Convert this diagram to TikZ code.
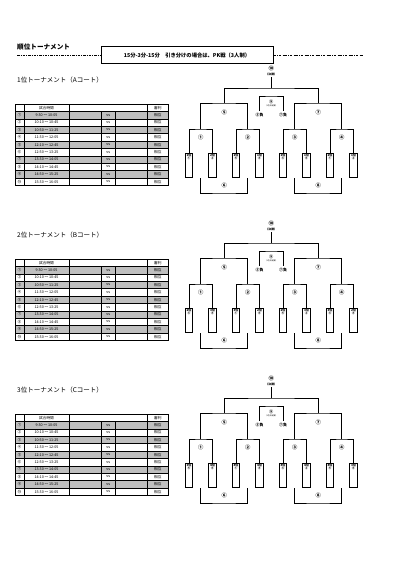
\documentclass[tikz,border=0pt]{standalone}
\usepackage{fontspec}
\setmainfont{Noto Sans CJK JP}
\tikzset{
 ttl/.style={font=\bfseries\fontsize{6.6}{7}\selectfont, inner sep=0, anchor=west},
 sect/.style={font=\fontsize{6.5}{7}\selectfont, inner sep=0, anchor=west},
 tcell/.style={font=\fontsize{3.7}{4}\selectfont, inner sep=0},
 brk/.style={line width=0.75pt},
 mlab/.style={font=\bfseries\fontsize{5.3}{5.5}\selectfont, inner sep=0},
 tinylab/.style={font=\bfseries\fontsize{2.8}{3}\selectfont, inner sep=0},
 microlab/.style={font=\fontsize{1.9}{2}\selectfont, inner sep=0},
 loslab/.style={font=\bfseries\fontsize{3.9}{4}\selectfont, inner sep=0},
 slot/.style={draw, line width=0.75pt, minimum width=7.7pt, minimum height=23.5pt, inner sep=0, anchor=north, fill=white},
 slotlab/.style={font=\bfseries\fontsize{3.1}{3.3}\selectfont, align=center, inner sep=0.7pt, anchor=north},
 dd/.style={line width=0.6pt, dash pattern=on 2.5pt off 1.2pt on 0.6pt off 1.2pt},
}
\begin{document}
\begin{tikzpicture}[x=1pt,y=-1pt]
\fill[white] (0,0) rectangle (404,573);
\useasboundingbox (0,0) rectangle (404,573);
\node[ttl] (title) at (17,47) {順位トーナメント};
\node[draw, line width=0.8pt, minimum width=172pt, minimum height=16.5pt, inner sep=0, font=\bfseries\fontsize{5.3}{6}\selectfont] (note) at (187,55) {15分-3分-15分\quad 引き分けの場合は、PK戦（3人制）};
\coordinate (dl1) at (17,55);
\coordinate (dl2) at (363,55);
\draw[dd] (dl1) -- (note.west);
\draw[dd] (note.east) -- (dl2);

\foreach \s/\n/\c/\labs in {
 0/1/A/{1位/①,2位/②,1位/⑤,1位/④,1位/③,1位/⑥,2位/①,1位/②},
 1/2/B/{2位/③,3位/④,3位/①,2位/⑥,2位/⑤,3位/②,3位/③,2位/④},
 2/3/C/{3位/⑤,4位/⑥,4位/①,4位/④,4位/③,4位/②,4位/⑤,3位/⑥}}{
\begin{scope}[yshift={-155pt*\s}]
 \node[sect] (h\s) at (17,80) {\n 位トーナメント（\c コート）};
 % table
 \foreach \r in {1,3,5,7,9} \fill[gray!50] (15,{104+7.4*\r}) rectangle (168,{104+7.4*(\r+1)});
 \foreach \r in {1,...,10} \draw[line width=0.3pt] (15,{104+7.4*\r}) -- (168,{104+7.4*\r});
 \foreach \x in {24,69,147.5} \draw[line width=0.4pt] (\x,104) -- (\x,185.4);
 \foreach \x in {101.5,115} \draw[line width=0.3pt] (\x,111.4) -- (\x,185.4);
 \draw[line width=0.8pt] (15,104) rectangle (168,185.4);
 \node[tcell] (tha\s) at (46.5,107.7) {試合時間};
 \node[tcell] (thb\s) at (157.75,107.7) {審判};
 \foreach \num/\tm [count=\r] in {①/9:30 ～ 10:05,②/10:10 ～ 10:45,③/10:50 ～ 11:25,④/11:30 ～ 12:05,⑤/12:10 ～ 12:45,⑥/12:50 ～ 13:25,⑦/13:30 ～ 14:05,⑧/14:10 ～ 14:45,⑨/14:50 ～ 15:25,⑩/15:30 ～ 16:05}{
  \node[tcell] (tn\s-\r) at (19.5,{104+7.4*\r+3.7}) {\num};
  \node[tcell] (tt\s-\r) at (46.5,{104+7.4*\r+3.7}) {\tm};
  \node[tcell] (tv\s-\r) at (108.25,{104+7.4*\r+3.7}) {vs};
  \node[tcell] (tr\s-\r) at (157.75,{104+7.4*\r+3.7}) {相互};
 }
 % slots
 \foreach \lab/\g [count=\i] in \labs {
  \node[slot] (b\s-\i) at ({189+23.5*(\i-1)},153) {};
  \node[slotlab] (bl\s-\i) at (b\s-\i.north) {\lab\\[-0.6pt]\g};
 }
 % quarter finals
 \coordinate (q\s-1) at (200.75,129);
 \coordinate (q\s-2) at (247.75,129);
 \coordinate (q\s-3) at (294.75,129);
 \coordinate (q\s-4) at (341.75,129);
 \draw[brk] (b\s-1.north) |- (q\s-1) -| (b\s-2.north);
 \draw[brk] (b\s-3.north) |- (q\s-2) -| (b\s-4.north);
 \draw[brk] (b\s-5.north) |- (q\s-3) -| (b\s-6.north);
 \draw[brk] (b\s-7.north) |- (q\s-4) -| (b\s-8.north);
 \node[mlab] (ql\s-1) at (200.75,137) {①};
 \node[mlab] (ql\s-2) at (247.75,137) {②};
 \node[mlab] (ql\s-3) at (294.75,137) {③};
 \node[mlab] (ql\s-4) at (341.75,137) {④};
 % semi finals
 \coordinate (sm\s-1) at (224.25,103);
 \coordinate (sm\s-2) at (318.25,103);
 \draw[brk] (q\s-1) |- (sm\s-1) -| (q\s-2);
 \draw[brk] (q\s-3) |- (sm\s-2) -| (q\s-4);
 \node[mlab] (sl\s-1) at (224.25,112) {⑤};
 \node[mlab] (sl\s-2) at (318.25,112) {⑦};
 % final
 \coordinate (f\s) at (271.25,88);
 \coordinate (fe\s) at (271.25,77);
 \draw[brk] (sm\s-1) |- (f\s) -| (sm\s-2);
 \draw[brk] (f\s) -- (fe\s);
 \node[mlab] (fl\s) at (271.25,68.6) {⑩};
 \node[tinylab] (fk\s) at (271.25,74) {（決勝）};
 % third place
 \coordinate (m\s) at (271.25,96);
 \coordinate (ma\s) at (259.5,111);
 \coordinate (mb\s) at (283,111);
 \draw[brk] (ma\s) |- (m\s) -| (mb\s);
 \node[font=\bfseries\fontsize{4.2}{4.2}\selectfont, inner sep=0] (ml\s) at (271.25,101.6) {⑨};
 \node[microlab] (mk\s) at (271.25,106.2) {（3位決定戦）};
 \node[loslab] (lsa\s) at (259.5,115) {⑤負};
 \node[loslab] (lsb\s) at (283,115) {⑦負};
 % consolation
 \coordinate (ca\s-1) at (200.75,178);
 \coordinate (cb\s-1) at (247.75,178);
 \coordinate (cm\s-1) at (224.25,193);
 \coordinate (ca\s-2) at (294.75,178);
 \coordinate (cb\s-2) at (341.75,178);
 \coordinate (cm\s-2) at (318.25,193);
 \draw[brk] (ca\s-1) |- (cm\s-1) -| (cb\s-1);
 \draw[brk] (ca\s-2) |- (cm\s-2) -| (cb\s-2);
 \node[mlab] (cl\s-1) at (224.25,185) {⑥};
 \node[mlab] (cl\s-2) at (318.25,185) {⑧};
\end{scope}
}
\end{tikzpicture}
\end{document}
